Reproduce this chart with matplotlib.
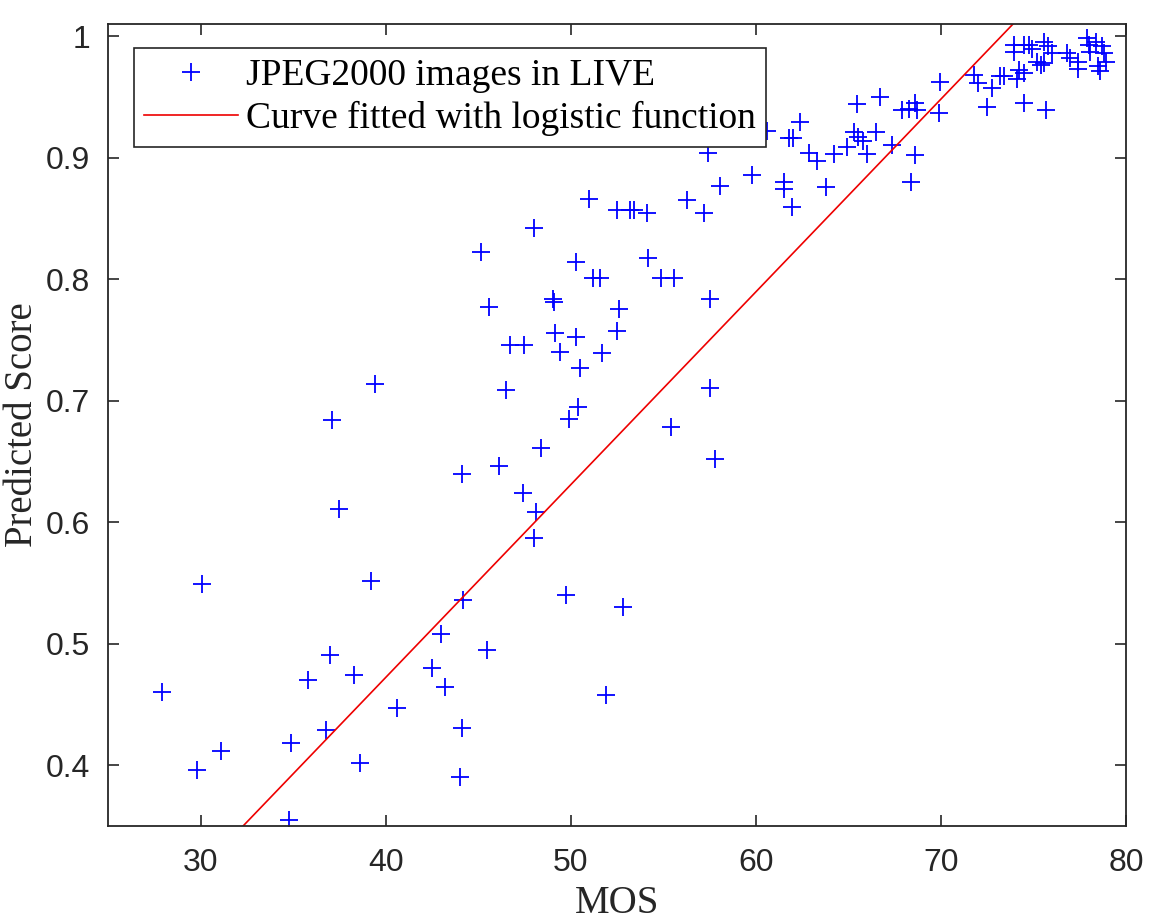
import numpy as np
import matplotlib
matplotlib.use("Agg")
import matplotlib.pyplot as plt

# MOS values and predicted scores for JPEG2000 images
mos = [27.9, 30.1, 37.1, 37.5, 44.1, 46.1, 39.2, 44.2, 43.0, 45.5, 37.0, 35.8,
       38.3, 42.5, 43.2, 40.6, 44.1, 36.8, 34.9, 31.1, 29.8, 38.6, 44.0, 34.8,
       39.4,
       48.4, 47.4, 48.1, 48.0, 49.75, 52.8, 51.9, 55.4, 57.8, 57.5, 50.4, 49.9,
       46.5, 50.5, 49.4, 51.7, 46.7, 47.5, 49.15, 50.3, 52.5, 52.6, 49.06, 49.1,
       57.5, 45.6, 51.2, 51.6, 54.9, 55.6, 50.3, 54.2, 45.15, 48.0, 51.0, 52.5,
       53.2, 53.4, 54.1, 56.3, 57.2, 58.07, 57.4, 59.8,
       60.6, 62.4, 61.8, 62.0, 62.9, 63.3, 64.2, 64.9, 65.3, 65.5, 65.8, 66.0,
       66.5, 67.35, 68.6, 68.4, 61.5, 61.5, 61.95, 63.8, 65.46, 66.7, 67.9, 68.3,
       68.6, 68.7, 69.9, 69.96, 71.8, 72.0, 72.75, 73.2, 72.5, 74.5, 75.7,
       73.93, 73.93, 74.47, 74.74, 74.9, 75.55, 75.8, 76.0, 75.2, 75.4, 75.55,
       74.2, 74.5, 74.1, 73.4, 76.8, 77.0, 77.4, 77.4, 77.9, 78.0, 78.4, 78.7,
       78.8, 78.9, 78.5, 78.6, 78.07]
score = [0.460, 0.549, 0.684, 0.611, 0.640, 0.646, 0.552, 0.536, 0.508, 0.495, 0.491, 0.470,
         0.474, 0.480, 0.464, 0.447, 0.431, 0.429, 0.418, 0.412, 0.396, 0.402, 0.390, 0.355,
         0.714,
         0.661, 0.624, 0.608, 0.587, 0.540, 0.530, 0.458, 0.678, 0.652, 0.710, 0.695, 0.685,
         0.709, 0.727, 0.740, 0.739, 0.746, 0.746, 0.756, 0.752, 0.757, 0.775, 0.784, 0.781,
         0.784, 0.777, 0.801, 0.801, 0.801, 0.801, 0.814, 0.817, 0.822, 0.842, 0.866, 0.857,
         0.857, 0.857, 0.854, 0.865, 0.854, 0.877, 0.904, 0.886,
         0.922, 0.929, 0.916, 0.916, 0.904, 0.897, 0.903, 0.909, 0.921, 0.917, 0.914, 0.903,
         0.921, 0.910, 0.902, 0.880, 0.880, 0.874, 0.859, 0.876, 0.944, 0.950, 0.939, 0.940,
         0.945, 0.939, 0.937, 0.962, 0.968, 0.961, 0.957, 0.967, 0.942, 0.945, 0.939,
         0.993, 0.987, 0.993, 0.993, 0.989, 0.995, 0.992, 0.986, 0.979, 0.976, 0.978,
         0.972, 0.970, 0.965, 0.967, 0.986, 0.982, 0.979, 0.973, 0.998, 0.993, 0.995, 0.992,
         0.986, 0.979, 0.975, 0.971, 0.987]

# fitted curve (looks straight inside the visible window)
fit_mos = [32.3, 73.9]
fit_score = [0.35, 1.01]

x_ticks = [30, 40, 50, 60, 70, 80]
y_ticks = [0.4, 0.5, 0.6, 0.7, 0.8, 0.9, 1.0]
y_tick_labels = ["0.4", "0.5", "0.6", "0.7", "0.8", "0.9", "1"]

tick_font = ["Liberation Sans Narrow", "Liberation Sans", "DejaVu Sans"]
serif_font = ["Liberation Serif", "DejaVu Serif"]

fig = plt.figure(figsize=(11.51, 9.23), dpi=100)
ax = fig.add_axes([0.0938, 0.1051, 0.8845, 0.869])

ax.plot(mos, score, linestyle="none", marker="+", color="#0000ff",
        markersize=13, markeredgewidth=1.3, label="JPEG2000 images in LIVE")
ax.plot(fit_mos, fit_score, color="#ee0000", linewidth=1.2,
        label="Curve fitted with logistic function")

ax.set_xlim(25, 80)
ax.set_ylim(0.35, 1.01)
ax.set_xticks(x_ticks)
ax.set_yticks(y_ticks)
ax.set_yticklabels(y_tick_labels)

for lbl in ax.get_xticklabels() + ax.get_yticklabels():
    lbl.set_family(tick_font)
    lbl.set_fontsize(23)

ax.tick_params(direction="in", length=8, width=1.2, top=True, right=True,
               colors="#262626", labelcolor="#262626")
ax.tick_params(axis="x", pad=16)
ax.tick_params(axis="y", pad=13)
for sp in ax.spines.values():
    sp.set_linewidth(1.3)
    sp.set_color("#262626")

ax.set_xlabel("MOS", family=serif_font, fontsize=28, color="#262626", labelpad=5)
ax.set_ylabel("Predicted Score", family=serif_font, fontsize=28, color="#262626", labelpad=3)

leg = ax.legend(loc="upper left", bbox_to_anchor=(0.0255, 0.9704),
                prop={"family": serif_font, "size": 27}, frameon=True,
                fancybox=False, edgecolor="#262626", framealpha=1,
                borderpad=0.28, labelspacing=0.22, handlelength=2.5,
                handletextpad=0.2, borderaxespad=0)
leg.get_frame().set_linewidth(1.2)

fig.savefig("out.png", dpi=100)
